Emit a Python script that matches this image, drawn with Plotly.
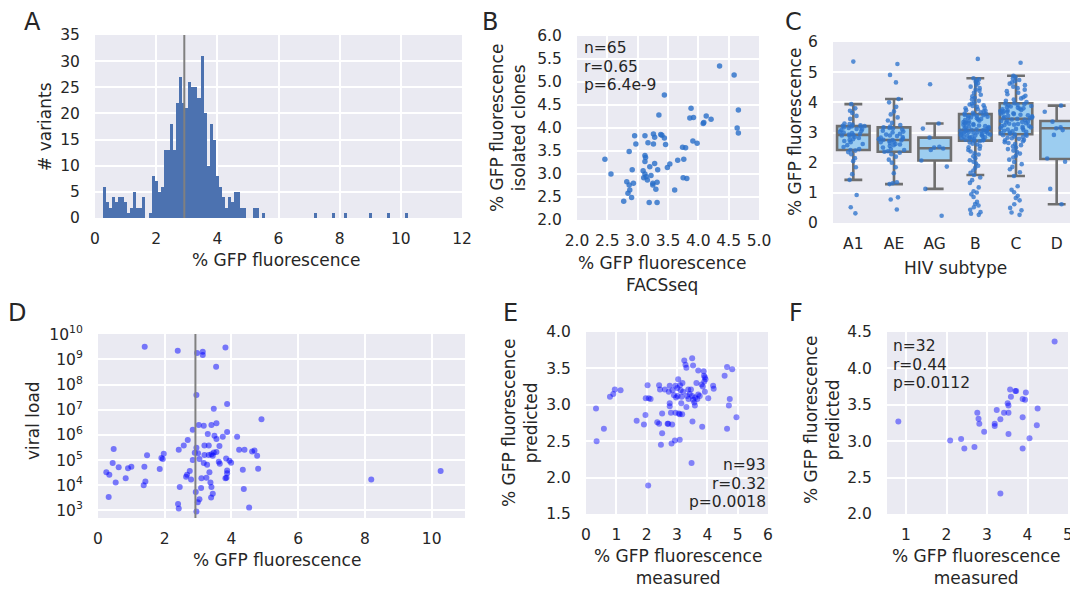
import plotly.graph_objects as go

W, H = 1078, 590
OFF = 8  # the page body adds an 8px margin around the figure

# ---------------- data ----------------
# Panel A: histogram of % GFP fluorescence (bins of width 0.1 starting at 0.25)
hist_bin_start = 0.25
hist_bin_width = 0.1
hist_counts = [6, 3, 2, 4, 3, 4, 4, 3, 1, 2,
               5, 2, 2, 4, 0, 1, 8, 7, 5, 6,
               13, 13, 18, 13, 22, 27, 22, 21, 26, 25,
               25, 23, 31, 20, 10, 18, 15, 8, 6, 4,
               2, 4, 3, 5, 5, 2, 2, 0, 0, 2,
               2, 0, 1, 0, 0, 0, 0, 0, 0, 0,
               0, 0, 0, 0, 0, 0, 0, 0, 0, 1,
               0, 0, 0, 0, 0, 1, 0, 0, 0, 1,
               0, 0, 0, 0, 0, 0, 0, 1, 0, 0,
               0, 0, 0, 1, 0, 0, 0, 0, 0, 1]
median_gfp = 2.92

# Panel B: FACSseq vs isolated clones
facs_x = [4.35, 3.44, 3.35, 3.86, 3.88, 3.92, 4.13, 4.21, 4.08, 4.09, 2.95, 3.12, 3.26, 3.28, 3.38,
          3.40, 3.44, 2.97, 3.17, 3.26, 3.46, 3.91, 3.98, 3.74, 3.79, 2.46, 2.86, 3.12, 3.13, 3.12,
          3.28, 3.20, 3.33, 3.53, 3.49, 3.66, 3.76, 2.91, 3.09, 3.12, 3.14, 3.10, 3.16, 3.25, 3.32,
          3.25, 3.30, 3.61, 2.56, 2.82, 2.86, 2.87, 2.84, 2.90, 2.93, 2.77, 3.19, 3.32, 3.75, 3.81,
          4.59, 4.66, 4.64, 4.66, 3.22]
clones_y = [5.35, 4.72, 4.28, 4.22, 4.43, 4.23, 4.26, 4.19, 4.10, 4.12, 3.83, 3.83, 3.87, 3.80, 3.86,
            3.84, 3.78, 3.65, 3.68, 3.65, 3.64, 3.72, 3.67, 3.58, 3.57, 3.32, 3.49, 3.40, 3.36, 3.27,
            3.23, 3.16, 3.09, 3.22, 3.14, 3.30, 3.32, 3.09, 3.07, 3.00, 2.94, 2.92, 2.87, 2.80, 2.82,
            2.76, 2.67, 2.65, 3.00, 2.83, 2.76, 2.65, 2.58, 2.49, 2.80, 2.41, 2.38, 2.38, 2.92, 2.90,
            5.15, 4.39, 4.00, 3.89, 2.97]

# Panel C: HIV subtypes
subtypes = ["A1", "AE", "AG", "B", "C", "D"]
box_q1 = [2.42, 2.36, 2.07, 2.73, 2.94, 2.12]
box_median = [2.92, 2.75, 2.48, 3.08, 3.45, 3.14]
box_q3 = [3.21, 3.17, 2.83, 3.61, 3.97, 3.38]
box_low = [1.43, 1.29, 1.13, 1.59, 1.56, 0.62]
box_high = [3.94, 4.11, 3.30, 4.80, 4.88, 3.89]

swarm_A1 = [0.32, 0.52, 0.93, 1.43, 1.62, 1.85, 2.05, 2.15, 2.28, 2.35, 2.40, 2.42, 2.45, 2.52,
            2.58, 2.62, 2.68, 2.72, 2.75, 2.78, 2.82, 2.85, 2.88, 2.90, 2.92, 2.93, 2.95, 2.98,
            3.00, 3.02, 3.05, 3.08, 3.10, 3.12, 3.15, 3.17, 3.19, 3.20, 3.21, 3.22, 3.24, 3.26,
            3.28, 3.30, 3.45, 3.55, 3.65, 3.72, 3.80, 3.94, 5.35]
swarm_AE = [0.45, 0.78, 0.85, 1.29, 1.32, 1.35, 1.65, 1.85, 2.00, 2.10, 2.20, 2.28, 2.33, 2.36,
            2.38, 2.42, 2.45, 2.50, 2.55, 2.58, 2.60, 2.62, 2.65, 2.68, 2.70, 2.72, 2.74, 2.75,
            2.76, 2.78, 2.80, 2.83, 2.85, 2.88, 2.90, 2.93, 2.96, 3.00, 3.03, 3.06, 3.10, 3.13,
            3.15, 3.17, 3.20, 3.25, 3.32, 3.40, 3.50, 3.60, 3.70, 3.85, 4.00, 4.11, 4.66, 4.91, 5.27]
swarm_AG = [0.24, 1.13, 1.87, 2.07, 2.42, 2.47, 2.53, 2.50, 2.83, 3.13, 3.30, 4.60]
swarm_B = [0.27, 0.31, 0.36, 0.44, 0.52, 0.58, 0.63, 0.70, 0.86, 0.95, 1.01, 1.05, 1.18, 1.33,
           1.42, 1.51, 1.59, 1.66, 1.74, 1.83, 1.90, 1.97, 2.03, 2.08, 2.15, 2.21, 2.27, 2.31,
           2.37, 2.42, 2.46, 2.51, 2.55, 2.60, 2.63, 2.67, 2.71, 2.73, 2.74, 2.76, 2.77, 2.78,
           2.80, 2.81, 2.83, 2.84, 2.85, 2.86, 2.88, 2.89, 2.90, 2.91, 2.92, 2.93, 2.95, 2.96,
           2.97, 2.98, 2.99, 3.00, 3.01, 3.02, 3.03, 3.04, 3.05, 3.06, 3.07, 3.08, 3.09, 3.11,
           3.12, 3.14, 3.15, 3.17, 3.18, 3.20, 3.21, 3.23, 3.25, 3.26, 3.28, 3.30, 3.31, 3.33,
           3.35, 3.37, 3.39, 3.41, 3.43, 3.45, 3.47, 3.49, 3.50, 3.52, 3.54, 3.55, 3.57, 3.58,
           3.60, 3.61, 3.63, 3.65, 3.67, 3.70, 3.72, 3.74, 3.77, 3.80, 3.82, 3.85, 3.88, 3.90,
           3.93, 3.96, 4.00, 4.05, 4.10, 4.15, 4.20, 4.25, 4.32, 4.38, 4.42, 4.47, 4.52, 4.58,
           4.63, 4.68, 4.72, 4.76, 4.80, 5.44]
swarm_C = [0.27, 0.35, 0.42, 0.50, 0.62, 0.75, 0.83, 0.90, 1.02, 1.10, 1.22, 1.56, 1.68, 1.78,
           1.86, 1.95, 2.02, 2.10, 2.17, 2.23, 2.30, 2.35, 2.40, 2.45, 2.50, 2.54, 2.58, 2.62,
           2.65, 2.68, 2.71, 2.74, 2.76, 2.79, 2.81, 2.83, 2.85, 2.87, 2.89, 2.91, 2.93, 2.94,
           2.96, 2.98, 3.00, 3.02, 3.04, 3.06, 3.08, 3.10, 3.12, 3.14, 3.15, 3.17, 3.19, 3.21,
           3.22, 3.24, 3.26, 3.28, 3.29, 3.31, 3.33, 3.35, 3.36, 3.38, 3.40, 3.42, 3.43, 3.45,
           3.47, 3.48, 3.50, 3.52, 3.54, 3.55, 3.57, 3.59, 3.61, 3.62, 3.64, 3.66, 3.68, 3.70,
           3.71, 3.73, 3.75, 3.77, 3.79, 3.80, 3.82, 3.84, 3.86, 3.88, 3.90, 3.92, 3.94, 3.96,
           3.97, 4.01, 4.05, 4.09, 4.13, 4.17, 4.22, 4.27, 4.32, 4.37, 4.42, 4.47, 4.52, 4.57,
           4.62, 4.66, 4.70, 4.74, 4.79, 4.84, 4.88, 5.31]
swarm_D = [0.62, 1.13, 2.03, 2.14, 2.92, 3.08, 3.14, 3.17, 3.36, 3.69, 3.89]

# Panel D: viral load vs % GFP fluorescence
vl_gfp = [1.40, 2.39, 2.97, 3.14, 3.14, 3.82, 3.54, 2.95, 3.47, 3.87, 4.90, 3.02, 3.17, 3.40,
          3.55, 2.84, 3.87, 3.29, 3.49, 3.74, 4.17, 3.55, 2.69, 2.57, 3.19, 3.32, 3.64, 2.42,
          0.47, 2.95, 2.90, 3.00, 3.19, 3.32, 3.40, 3.47, 3.55, 3.44, 4.23, 4.39, 4.62, 4.69,
          4.77, 1.47, 1.97, 1.90, 1.94, 3.84, 3.94, 3.99, 3.62, 3.65, 3.04, 2.84, 3.27, 3.17,
          0.44, 0.62, 1.00, 0.90, 1.39, 1.85, 0.25, 0.34, 0.53, 0.83, 1.37, 1.42, 3.34, 3.87,
          3.87, 4.34, 4.80, 2.75, 2.64, 2.67, 2.79, 3.10, 3.25, 3.82, 3.85, 3.37, 3.40, 2.45,
          3.09, 2.93, 3.44, 4.37, 3.04, 2.99, 3.39, 0.32, 2.40, 2.42, 2.95, 4.53, 8.19, 10.27]
viral_load = [3.2e9, 2.2e9, 1.8e9, 2.0e9, 1.5e9, 3.0e9, 5.1e8, 3.9e7, 1.1e7, 1.7e7, 4.2e6, 2.5e6,
              2.3e6, 2.5e6, 2.9e6, 1.6e6, 1.3e6, 1.1e6, 9.3e5, 8.5e5, 8.5e5, 6.9e5, 6.3e5, 3.8e5,
              3.8e5, 3.8e5, 3.6e5, 2.6e5, 2.75e5, 3.1e5, 1.95e5, 1.86e5, 1.6e5, 1.6e5, 1.7e5,
              2.0e5, 2.1e5, 1.5e5, 2.6e5, 2.6e5, 2.2e5, 2.4e5, 1.5e5, 1.55e5, 1.8e5, 1.2e5,
              1.1e5, 1.15e5, 9.5e4, 7.9e4, 8.7e4, 7.1e4, 1.1e5, 1.0e5, 6.5e4, 7.6e4, 7.6e4,
              5.2e4, 5.5e4, 4.8e4, 5.5e4, 4.4e4, 3.3e4, 2.6e4, 1.3e4, 1.9e4, 1.0e4, 1.4e4,
              3.3e4, 3.9e4, 3.0e4, 4.1e4, 4.5e4, 3.7e4, 2.2e4, 2.6e4, 1.7e4, 1.9e4, 2.0e4,
              1.9e4, 2.0e4, 1.3e4, 8.5e3, 8.5e3, 7.8e3, 5.4e3, 4.6e3, 7.1e3, 2.8e3, 2.1e3,
              3.3e3, 3.4e3, 1.8e3, 1.2e3, 9.1e2, 1.3e3, 1.7e4, 3.7e4]
vl_ticks = [1e3, 1e4, 1e5, 1e6, 1e7, 1e8, 1e9, 1e10]
vl_ticktext = ["10<sup>3</sup>", "10<sup>4</sup>", "10<sup>5</sup>", "10<sup>6</sup>",
               "10<sup>7</sup>", "10<sup>8</sup>", "10<sup>9</sup>", "10<sup>10</sup>"]

# Panel E: measured vs predicted
e_measured = [0.33, 0.35, 0.59, 0.79, 0.90, 0.95, 1.14, 1.67, 1.91, 1.96, 2.03, 1.97, 2.07, 2.05,
              2.13, 2.41, 2.44, 2.35, 2.41, 2.51, 2.51, 2.47, 2.60, 2.69, 2.71, 2.76, 2.73, 2.76,
              2.76, 2.80, 2.82, 2.84, 2.90, 2.95, 2.95, 2.93, 3.01, 3.02, 3.04, 3.06, 3.09, 3.09,
              3.15, 3.18, 3.17, 3.20, 3.24, 3.28, 3.31, 3.31, 3.33, 3.37, 3.42, 3.46, 3.50, 3.53,
              3.50, 3.53, 3.59, 3.51, 3.48, 3.64, 3.67, 3.70, 3.70, 3.81, 3.83, 3.88, 3.89, 3.92,
              3.94, 3.92, 4.03, 4.19, 4.21, 4.57, 4.65, 4.82, 4.74, 4.71, 4.65, 4.96, 3.75, 3.10,
              3.12, 3.38, 3.60, 3.85, 2.85, 3.57, 3.90, 2.97, 3.14]
e_predicted = [2.95, 2.50, 2.67, 3.11, 3.15, 3.21, 3.20, 2.78, 2.73, 2.86, 3.27, 3.09, 3.09, 1.89,
               3.08, 3.27, 3.21, 2.76, 2.74, 2.88, 2.61, 2.45, 3.21, 2.74, 2.74, 3.26, 3.18, 3.02,
               2.98, 2.89, 2.47, 2.73, 3.13, 3.26, 2.89, 2.51, 3.23, 3.12, 3.35, 2.88, 2.52, 2.87,
               3.11, 3.30, 2.87, 3.18, 3.61, 3.55, 3.51, 2.97, 3.12, 3.21, 3.15, 3.21, 3.64, 3.54,
               3.12, 3.07, 2.99, 2.77, 2.20, 3.30, 3.08, 3.14, 3.47, 3.28, 2.70, 3.46, 3.40, 3.38,
               3.35, 3.18, 3.09, 3.26, 3.22, 3.40, 3.52, 3.49, 3.08, 2.99, 2.67, 2.83, 3.12, 3.27,
               3.20, 3.08, 3.10, 3.25, 3.20, 3.03, 3.32, 3.10, 3.02]

# Panel F: measured vs predicted (second set)
f_measured = [4.67, 0.81, 2.09, 2.36, 2.44, 2.69, 2.76, 2.79, 2.81, 2.93, 3.19, 3.19, 3.24, 3.33,
              3.33, 3.42, 3.51, 3.53, 3.53, 3.53, 3.57, 3.59, 3.70, 3.72, 3.88, 3.88, 3.88, 3.96,
              3.94, 4.05, 4.25, 4.23]
f_predicted = [4.37, 3.27, 3.01, 3.03, 2.90, 2.92, 3.39, 3.31, 3.24, 3.13, 3.24, 3.21, 3.43, 3.30,
               2.28, 3.39, 3.52, 3.49, 3.39, 3.10, 3.71, 3.61, 3.69, 3.69, 3.58, 3.33, 2.90, 3.67,
               3.57, 3.04, 3.45, 3.22]

# ---------------- style ----------------
FONT = "DejaVu Sans"
TXT = "#262626"
BG = "#EAEAF2"
TICK_SIZE = 15.5
TITLE_SIZE = 17


def dom_x(a, b):
    return [(a - OFF) / W, (b - OFF) / W]


def dom_y(top, bottom):
    return [1 - (bottom - OFF) / H, 1 - (top - OFF) / H]


def axis(domain, rng, ticklen=11, **kw):
    d = dict(domain=domain, range=rng, showgrid=True, gridcolor="white", gridwidth=1.6,
             zeroline=False, showline=False, ticks="outside", ticklen=ticklen, automargin=False,
             tickcolor="rgba(0,0,0,0)", tickfont=dict(family=FONT, size=TICK_SIZE, color=TXT))
    d.update(kw)
    return d


XT = 6  # x tick label gap

fig = go.Figure()

# A: histogram
centers = [hist_bin_start + hist_bin_width * (i + 0.5) for i in range(len(hist_counts))]
fig.add_trace(go.Bar(x=centers, y=hist_counts, width=hist_bin_width, marker=dict(color="#4C72B0", line=dict(width=0)),
                     xaxis="x", yaxis="y", showlegend=False))

# B: scatter
fig.add_trace(go.Scatter(x=facs_x, y=clones_y, mode="markers", xaxis="x2", yaxis="y2",
                         marker=dict(color="rgba(40,110,200,0.8)", size=5.5, line=dict(width=0)), showlegend=False))

# C: boxes + swarm
fig.add_trace(go.Box(x=subtypes, q1=box_q1, median=box_median, q3=box_q3, lowerfence=box_low,
                     upperfence=box_high, xaxis="x3", yaxis="y3", boxpoints=False, width=0.8,
                     whiskerwidth=0.55, fillcolor="#9CCDF0", line=dict(color="#6f6f6f", width=2.6),
                     showlegend=False))
for name, vals in zip(subtypes, [swarm_A1, swarm_AE, swarm_AG, swarm_B, swarm_C, swarm_D]):
    fig.add_trace(go.Box(x=[name] * len(vals), y=vals, xaxis="x3", yaxis="y3", boxpoints="all",
                         jitter=1.0, pointpos=0, width=0.8, fillcolor="rgba(0,0,0,0)",
                         line=dict(color="rgba(0,0,0,0)", width=0),
                         marker=dict(color="rgba(45,115,205,0.78)", size=4.6), showlegend=False))

# D: viral load
fig.add_trace(go.Scatter(x=vl_gfp, y=viral_load, mode="markers", xaxis="x4", yaxis="y4",
                         marker=dict(color="rgba(0,0,255,0.5)", size=6, line=dict(width=0)), showlegend=False))
# E
fig.add_trace(go.Scatter(x=e_measured, y=e_predicted, mode="markers", xaxis="x5", yaxis="y5",
                         marker=dict(color="rgba(0,0,255,0.45)", size=6, line=dict(width=0)), showlegend=False))
# F
fig.add_trace(go.Scatter(x=f_measured, y=f_predicted, mode="markers", xaxis="x6", yaxis="y6",
                         marker=dict(color="rgba(0,0,255,0.45)", size=6, line=dict(width=0)), showlegend=False))

# median lines in A and D
for xr, yr in [("x", "y domain"), ("x4", "y4 domain")]:
    fig.add_shape(type="line", xref=xr, yref=yr, x0=median_gfp, x1=median_gfp, y0=0, y1=1,
                  line=dict(color="#808080", width=2))

layout = dict(
    width=W, height=H, autosize=False,
    margin=dict(l=0, r=0, t=0, b=0, pad=0, autoexpand=False),
    showlegend=False,
    paper_bgcolor="white", plot_bgcolor=BG, boxmode="overlay", bargap=0,
    font=dict(family=FONT, color=TXT),
    xaxis=axis(dom_x(95, 462), [0, 12], ticklen=XT, dtick=2, anchor="y"),
    yaxis=axis(dom_y(35, 218), [0, 35], dtick=5, anchor="x"),
    xaxis2=axis(dom_x(577, 759), [2, 5], ticklen=XT, dtick=0.5, tickformat=".1f", anchor="y2"),
    yaxis2=axis(dom_y(36, 220), [2, 6], dtick=0.5, tickformat=".1f", anchor="x2"),
    xaxis3=axis(dom_x(833, 1077), [-0.5, 5.5], ticklen=XT, type="category", anchor="y3", showgrid=False),
    yaxis3=axis(dom_y(42, 223), [0, 6], dtick=1, anchor="x3"),
    xaxis4=axis(dom_x(98, 465), [0, 11], ticklen=XT, dtick=2, anchor="y4"),
    yaxis4=axis(dom_y(334, 518), [2.7, 10.01], type="log", tickvals=vl_ticks, ticktext=vl_ticktext, anchor="x4"),
    xaxis5=axis(dom_x(586, 768), [0, 6], ticklen=XT, dtick=1, anchor="y5"),
    yaxis5=axis(dom_y(332, 514), [1.5, 4.0], dtick=0.5, tickformat=".1f", anchor="x5"),
    xaxis6=axis(dom_x(887, 1068), [0.53, 5.0], ticklen=XT, dtick=1, tick0=0, anchor="y6"),
    yaxis6=axis(dom_y(332, 514), [2.0, 4.5], dtick=0.5, tickformat=".1f", anchor="x6"),
)
fig.update_layout(**layout)


def ann(text, px, py, size=TITLE_SIZE, angle=0, xanchor="center", yanchor="middle", align="center"):
    fig.add_annotation(text=text, x=(px - OFF) / W, y=1 - (py - OFF) / H, xref="paper", yref="paper",
                       showarrow=False, textangle=angle, xanchor=xanchor, yanchor=yanchor, align=align,
                       borderpad=0, font=dict(family=FONT, size=size, color=TXT))


# panel letters
for letter, px, py in [("A", 32, 22), ("B", 490, 22), ("C", 793, 22), ("D", 17, 313), ("E", 510, 313), ("F", 796, 313)]:
    ann(letter, px, py, size=24)

# axis titles
ann("% GFP fluorescence", 276, 260)
ann("# variants", 45, 127, angle=-90)
ann("% GFP fluorescence<br>isolated clones", 508, 128, angle=-90)
ann("% GFP fluorescence<br>FACSseq", 662, 274)
ann("% GFP fluorescence", 795, 132, angle=-90)
ann("HIV subtype", 955, 268)
ann("viral load", 33, 420, angle=-90)
ann("% GFP fluorescence", 277, 560)
ann("% GFP fluorescence<br>predicted", 520, 423, angle=-90)
ann("% GFP fluorescence<br>measured", 678, 567)
ann("% GFP fluorescence<br>predicted", 822, 420, angle=-90)
ann("% GFP fluorescence<br>measured", 976, 567)

# statistics text
for i, t in enumerate(["n=65", "r=0.65", "p=6.4e-9"]):
    ann(t, 583, 48 + 18.7 * i, size=TICK_SIZE, xanchor="left")
for i, t in enumerate(["n=93", "r=0.32", "p=0.0018"]):
    ann(t, 767, 465 + 18.7 * i, size=TICK_SIZE, xanchor="right")
for i, t in enumerate(["n=32", "r=0.44", "p=0.0112"]):
    ann(t, 892, 346 + 18.7 * i, size=TICK_SIZE, xanchor="left")

fig.write_html("out.html")
